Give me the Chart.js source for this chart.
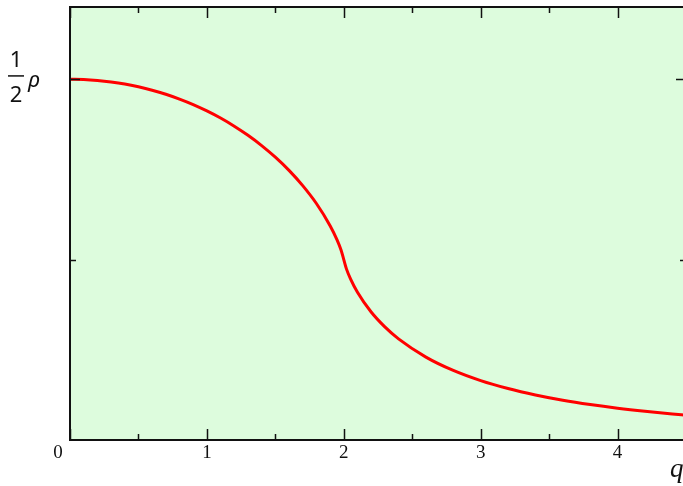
<!DOCTYPE html>
<html>
<head>
  <meta charset="UTF-8">
  <title>rho / 2 curve</title>
  <script src="https://cdn.jsdelivr.net/npm/chart.js"></script>
  <style>
    html, body { margin: 0; padding: 0; overflow: hidden; background: #fff; }
    #wrap { width: 692px; height: 486px; position: relative; }
  </style>
</head>
<body>
  <div id="wrap"><canvas id="chart"></canvas></div>

  <script>
    // curve, q vs value in units of rho
    const qValues = [0, 0.1, 0.2, 0.3, 0.4, 0.5, 0.6, 0.7, 0.8, 0.9, 1.0, 1.1, 1.2, 1.3, 1.4, 1.5, 1.6, 1.7, 1.8, 1.9, 1.95, 1.98, 2.0,
      2.02, 2.05, 2.1, 2.2, 2.3, 2.4, 2.6, 2.8, 3.0, 3.2, 3.4, 3.6, 3.8, 4.0, 4.2, 4.4, 4.5];
    const rhoValues = [0.5000, 0.4996, 0.4983, 0.4962, 0.4933, 0.4894, 0.4847, 0.4791, 0.4724, 0.4648, 0.4560, 0.4461, 0.4348,
      0.4222, 0.4080, 0.3919, 0.3736, 0.3525, 0.3277, 0.2970, 0.2777, 0.2633, 0.2500,
      0.2368, 0.2229, 0.2047, 0.1773, 0.1567, 0.1401, 0.1149, 0.0964, 0.0823, 0.0713, 0.0624, 0.0551, 0.0491, 0.0440, 0.0397, 0.0360, 0.0344];
    const xTicks = [0, 0.5, 1, 1.5, 2, 2.5, 3, 3.5, 4, 4.5];
    const xLabels = ['0', '1', '2', '3', '4'];
    const yTicks = [0.25, 0.5];

    const frame = {
      id: 'frame',
      beforeDatasetsDraw(c) {
        const a = c.chartArea, g = c.ctx;
        g.save();
        g.fillStyle = '#ddfcdd';
        g.fillRect(a.left, a.top, a.right - a.left, a.bottom - a.top);
        g.restore();
      },
      afterDraw(c) {
        const a = c.chartArea, g = c.ctx;
        const xs = c.scales.x, ys = c.scales.y;
        g.save();
        g.strokeStyle = '#111';
        g.lineWidth = 2;
        g.strokeRect(a.left, a.top, a.right - a.left, a.bottom - a.top);

        g.lineWidth = 1.5;
        g.beginPath();
        xTicks.forEach(v => {
          const px = Math.round(xs.getPixelForValue(v)) + 0.5;
          const len = Number.isInteger(v) ? 11 : 6;
          g.moveTo(px, a.bottom); g.lineTo(px, a.bottom - len);
          g.moveTo(px, a.top); g.lineTo(px, a.top + len);
        });
        yTicks.forEach(v => {
          const py = Math.round(ys.getPixelForValue(v)) + 0.5;
          const len = v === 0.5 ? 10 : 6;
          g.moveTo(a.left, py); g.lineTo(a.left + len, py);
          g.moveTo(a.right, py); g.lineTo(a.right - len, py);
        });
        g.stroke();

        // x tick labels
        g.fillStyle = '#111';
        g.font = '19px "Liberation Serif", serif';
        g.textAlign = 'center';
        g.textBaseline = 'middle';
        xLabels.forEach((t, i) => {
          let px = xs.getPixelForValue(i);
          if (i === 0) px -= 12;
          g.fillText(t, px, a.bottom + 13);
        });

        // axis name q
        g.font = 'italic 27px "Liberation Serif", serif';
        g.textAlign = 'left';
        g.textBaseline = 'alphabetic';
        g.fillText('q', 670, 477);

        // y label 1/2 rho
        const yp = ys.getPixelForValue(0.5);
        g.font = '22px "Noto Sans", sans-serif';
        g.textAlign = 'center';
        g.fillText('1', 16, yp - 12);
        g.fillText('2', 16, yp + 23);
        g.fillRect(8, yp - 4, 16, 1.5);
        g.font = 'italic 22px "Noto Sans", sans-serif';
        g.textAlign = 'left';
        g.fillText('ρ', 28, yp + 8);
        g.restore();
      }
    };

    new Chart(document.getElementById('chart'), {
      type: 'line',
      data: {
        datasets: [{
          data: qValues.map((q, i) => ({ x: q, y: rhoValues[i] })),
          borderColor: '#ff0000',
          borderWidth: 3,
          pointRadius: 0,
          cubicInterpolationMode: 'monotone',
          fill: false
        }]
      },
      options: {
        responsive: true,
        maintainAspectRatio: false,
        animation: false,
        layout: { padding: { left: 70, top: 7, right: 6, bottom: 46 } },
        plugins: { legend: { display: false }, tooltip: { enabled: false } },
        scales: {
          x: { type: 'linear', min: 0, max: 4.5, display: false },
          y: { type: 'linear', min: 0, max: 0.6, display: false }
        }
      },
      plugins: [frame]
    });
  </script>
</body>
</html>
